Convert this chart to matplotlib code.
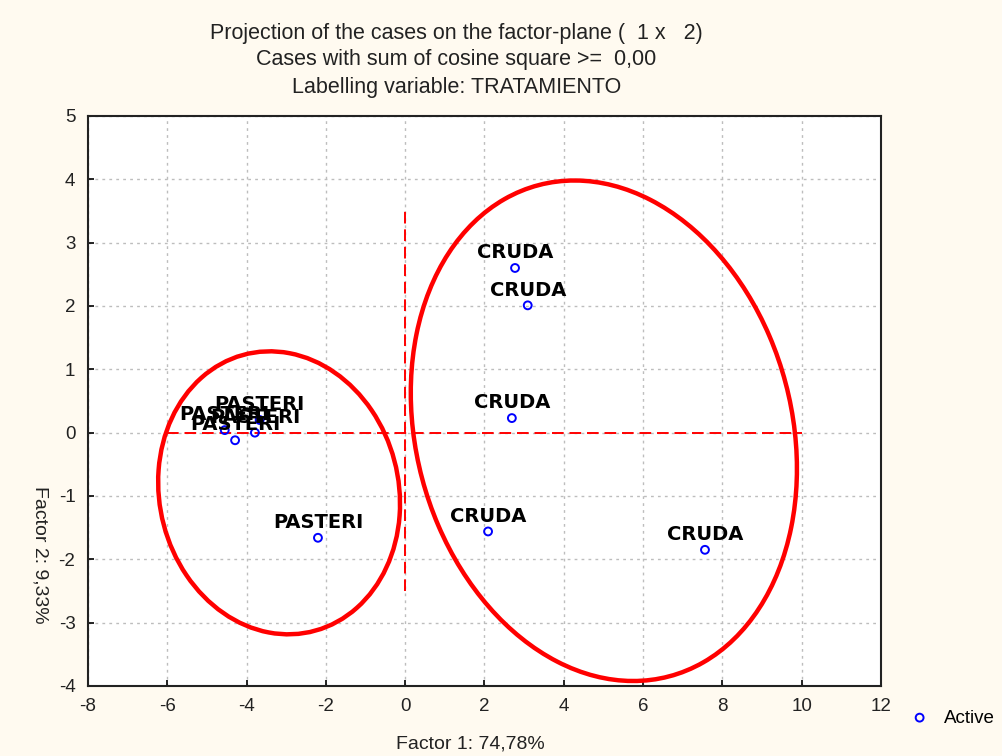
import numpy as np
import matplotlib
matplotlib.use("Agg")
import matplotlib.pyplot as plt
from matplotlib.patches import Ellipse

plt.rcParams["axes.unicode_minus"] = False

# Coordenadas dos casos no plano fatorial (1 x 2)
labels = ["CRUDA", "CRUDA", "CRUDA", "CRUDA", "CRUDA",
          "PASTERI", "PASTERI", "PASTERI", "PASTERI", "PASTERI"]
factor1 = [2.77, 3.09, 2.69, 2.09, 7.56, -2.20, -4.55, -4.29, -3.79, -3.67]
factor2 = [2.60, 2.01, 0.23, -1.56, -1.85, -1.66, 0.04, -0.12, 0.00, 0.20]

# Elipses desenhadas à mão sobre os grupos: centro, largura, altura, ângulo
groups_center = [(-3.18, -0.95), (5.01, 0.03)]
groups_width = [6.12, 9.93]
groups_height = [4.44, 7.66]
groups_angle = [-6.8, -17.9]

# Linhas de origem (tracejadas)
hline_x = [-6.0, 10.0]
vline_y = [-2.5, 3.5]

xticks = np.arange(-8, 13, 2)
yticks = np.arange(-4, 6, 1)

bg = "#fffaf0"
font = "Liberation Sans"

fig = plt.figure(figsize=(10.03, 7.56), dpi=100, facecolor=bg)
ax = fig.add_axes([0.0877, 0.0926, 0.7907, 0.754])
ax.set_facecolor("white")

ax.set_xlim(-8, 12)
ax.set_ylim(-4, 5)
ax.set_xticks(xticks)
ax.set_yticks(yticks)
ax.grid(True, color="#bdbdbd", linestyle=(0, (2, 3)), linewidth=1.0)
ax.set_axisbelow(True)
ax.tick_params(direction="in", length=4, width=1.2, labelsize=13.5,
               top=False, right=False, pad=9, labelcolor="#222222")
for lab in ax.get_xticklabels() + ax.get_yticklabels():
    lab.set_fontfamily(font)
for sp in ax.spines.values():
    sp.set_linewidth(1.5)
    sp.set_color("#222222")

ax.plot(hline_x, [0, 0], color="red", linestyle=(0, (6, 3)), linewidth=1.4)
ax.plot([0, 0], vline_y, color="red", linestyle=(0, (6, 3)), linewidth=1.4)

for c, w, h, a in zip(groups_center, groups_width, groups_height, groups_angle):
    ax.add_patch(Ellipse(c, w, h, angle=a, fill=False, edgecolor="red",
                         linewidth=3.2))

sc = ax.scatter(factor1, factor2, s=32, facecolors="none", edgecolors="blue",
                linewidths=1.4, zorder=5, label="Active")

for x, y, t in zip(factor1, factor2, labels):
    ax.annotate(t, (x, y), xytext=(0, 11), textcoords="offset points",
                ha="center", va="center", fontsize=14, fontweight="bold",
                family="DejaVu Sans", color="black", zorder=6)

title_lines = ["Projection of the cases on the factor-plane (  1 x   2)",
               "Cases with sum of cosine square >=  0,00",
               "Labelling variable: TRATAMIENTO"]
for ypx, line in zip([33, 60, 88], title_lines):
    fig.text(0.455, 1 - ypx / 756, line, ha="center", va="center",
             fontsize=15.5, family=font, color="#222222")

fig.text(470 / 1003, 1 - 744 / 756, "Factor 1: 74,78%", ha="center", va="center",
         fontsize=14, family=font, color="#222222")
fig.text(40 / 1003, 1 - 555 / 756, "Factor 2: 9,33%", ha="center", va="center",
         rotation=270, fontsize=14, family=font, color="#222222")

fig.legend(handles=[sc], loc="center left", bbox_to_anchor=(884 / 1003, 1 - 718 / 756),
           frameon=False, prop={"family": font, "size": 13.5}, handletextpad=0.3,
           markerscale=1.0)

fig.savefig("out.png", dpi=100, facecolor=bg)
